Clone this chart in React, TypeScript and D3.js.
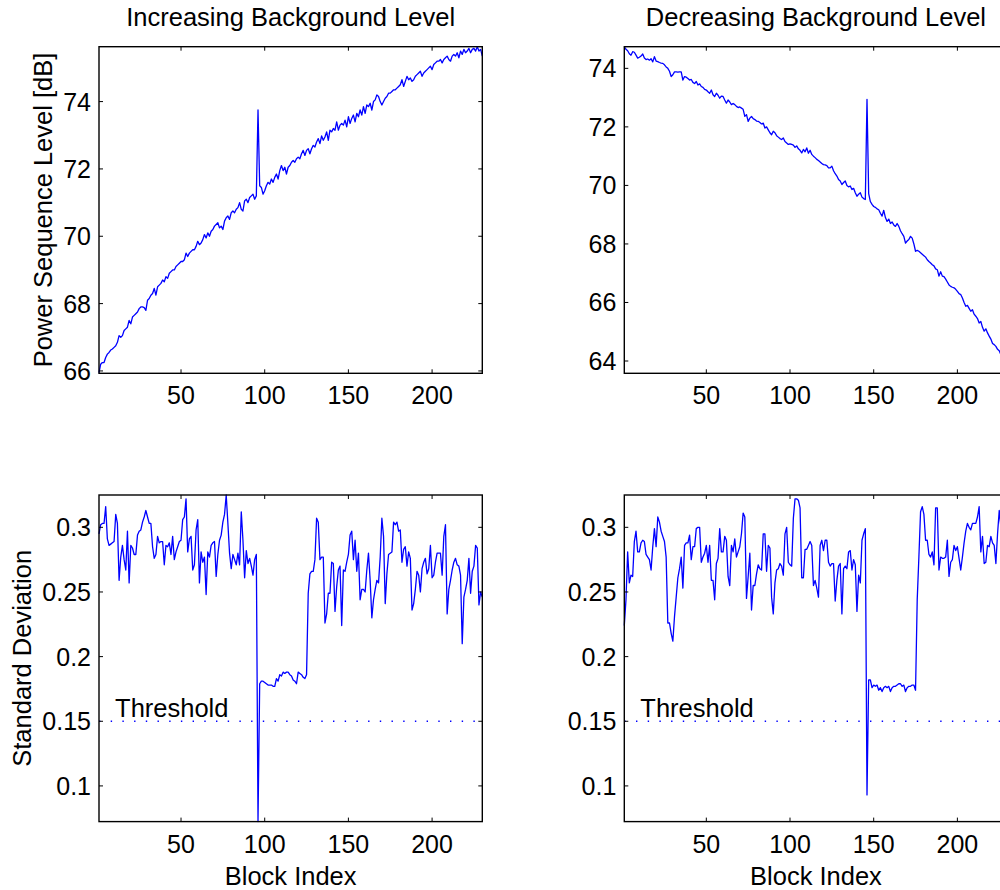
import React from 'react';
import * as d3 from 'd3';

// ---------- DATA ----------
const incLevel: number[] = [
  65.95, 66.2, 66.25, 66.25, 66.4, 66.5, 66.55, 66.62, 66.65, 66.7,
  66.75, 66.85, 67.05, 67.0, 67.05, 67.2, 67.25, 67.3, 67.5, 67.4,
  67.6, 67.65, 67.7, 67.75, 67.85, 67.9, 67.9, 67.88, 67.8, 68.1,
  68.15, 68.25, 68.3, 68.45, 68.25, 68.5, 68.55, 68.6, 68.7, 68.65,
  68.8, 68.75, 68.9, 68.95, 69.0, 69.0, 69.1, 69.15, 69.2, 69.25,
  69.25, 69.3, 69.5, 69.4, 69.5, 69.55, 69.6, 69.6, 69.7, 69.85,
  69.75, 69.8, 69.9, 70.05, 69.95, 70.1, 70.0, 70.15, 70.2, 70.3,
  70.35, 70.4, 70.25, 70.3, 70.2, 70.45, 70.55, 70.6, 70.5, 70.7,
  70.75, 70.7, 70.8, 70.85, 71.0, 70.8, 70.75, 71.05, 71.1, 71.0,
  71.15, 71.2, 71.25, 71.1, 71.2, 73.75, 71.5, 71.45, 71.25, 71.35,
  71.5, 71.6, 71.55, 71.7, 71.6, 71.75, 71.85, 71.7, 71.95, 72.1,
  71.95, 72.05, 71.85, 72.05, 72.1, 72.2, 72.25, 72.2, 72.3, 72.35,
  72.3, 72.45, 72.55, 72.4, 72.55, 72.6, 72.45, 72.6, 72.7, 72.65,
  72.8, 72.9, 72.75, 72.98, 72.85, 72.95, 73.1, 72.85, 73.15, 73.1,
  73.2, 73.15, 73.4, 73.15, 73.3, 73.35, 73.3, 73.45, 73.25, 73.55,
  73.35, 73.5, 73.6, 73.4, 73.65, 73.55, 73.75, 73.6, 73.85, 73.65,
  73.9, 73.85, 73.95, 73.75, 74.0, 74.05, 74.2, 74.15, 74.0, 73.9,
  74.0, 74.1, 74.15, 74.25, 74.25, 74.3, 74.35, 74.35, 74.4, 74.45,
  74.5, 74.65, 74.45, 74.6, 74.75, 74.65, 74.7, 74.6, 74.65, 74.75,
  74.8, 74.85, 74.9, 74.75, 74.85, 74.9, 74.95, 75.0, 75.05, 74.95,
  75.1, 75.15, 75.2, 75.2, 75.25, 75.15, 75.25, 75.3, 75.35, 75.25,
  75.2, 75.35, 75.4, 75.35, 75.45, 75.3, 75.5, 75.4, 75.55, 75.45,
  75.5, 75.58, 75.45, 75.55, 75.58, 75.5, 75.63, 75.5, 75.55, 75.35,
];

const decLevel: number[] = [
  74.74, 74.65, 74.6, 74.5, 74.45, 74.57, 74.55, 74.45, 74.35, 74.38,
  74.42, 74.49, 74.35, 74.3, 74.32, 74.28, 74.33, 74.22, 74.4, 74.25,
  74.23, 74.2, 74.18, 74.17, 74.12, 74.05, 74.0, 73.9, 73.72, 73.78,
  73.88, 73.88, 73.87, 73.88, 73.88, 73.6, 73.72, 73.7, 73.65, 73.6,
  73.62, 73.52, 73.48, 73.55, 73.43, 73.47, 73.38, 73.35, 73.28, 73.26,
  73.2, 73.15, 73.26, 73.1, 73.04, 73.15, 73.08, 72.98, 73.05, 73.04,
  72.92, 72.81, 72.92, 72.85, 72.76, 72.8, 72.76, 72.7, 72.66, 72.68,
  72.64, 72.6, 72.36, 72.42, 72.19, 72.3, 72.36, 72.28, 72.25, 72.2,
  72.19, 72.15, 72.1, 72.13, 71.96, 72.0, 71.9, 71.8, 71.73, 71.85,
  71.8, 71.7, 71.65, 71.6, 71.57, 71.62, 71.5, 71.45, 71.4, 71.42,
  71.4, 71.38, 71.3, 71.35, 71.25, 71.2, 71.11, 71.23, 71.15, 71.28,
  71.1, 71.2, 71.06, 71.0, 70.95, 70.89, 70.85, 70.8, 70.75, 70.71,
  70.7, 70.68, 70.6, 70.6, 70.66, 70.5, 70.4, 70.32, 70.2, 70.15,
  70.03, 70.1, 70.15, 70.0, 69.95, 69.98, 69.86, 69.9, 69.75, 69.63,
  69.7, 69.75, 69.6, 69.55, 69.52, 72.94, 69.72, 69.45, 69.35, 69.28,
  69.25, 69.2, 69.17, 69.05, 68.95, 69.15, 68.9, 68.77, 68.85, 68.7,
  68.75, 68.65, 68.6, 68.7, 68.6, 68.45, 68.35, 68.26, 68.03, 68.1,
  68.15, 68.26, 68.2, 68.0, 67.75, 67.78, 67.75, 67.7, 67.65, 67.6,
  67.55, 67.46, 67.4, 67.35, 67.29, 67.25, 67.15, 67.12, 66.9, 67.05,
  66.9, 66.88, 66.8, 66.7, 66.6, 66.55, 66.52, 66.5, 66.45, 66.38,
  66.3, 66.27, 66.15, 66.0, 65.87, 65.9, 65.8, 65.7, 65.75, 65.6,
  65.53, 65.45, 65.3, 65.35, 65.15, 65.02, 65.1, 64.96, 64.85, 64.75,
  64.6, 64.56, 64.5, 64.4, 64.35, 64.22, 64.2, 64.1, 63.9, 63.58,
];

const incStd: number[] = [
  0.295, 0.302, 0.303, 0.303, 0.316, 0.291, 0.286, 0.287, 0.288, 0.289,
  0.31, 0.303, 0.259, 0.277, 0.286, 0.275, 0.267, 0.297, 0.257, 0.286,
  0.284, 0.279, 0.279, 0.294, 0.297, 0.298, 0.304, 0.308, 0.313, 0.308,
  0.303, 0.303, 0.285, 0.276, 0.279, 0.293, 0.288, 0.289, 0.289, 0.271,
  0.286, 0.285, 0.288, 0.279, 0.293, 0.275, 0.281, 0.285, 0.289, 0.29,
  0.306, 0.308, 0.322, 0.281, 0.291, 0.293, 0.267, 0.271, 0.298, 0.306,
  0.257, 0.281, 0.273, 0.277, 0.248, 0.281, 0.277, 0.286, 0.288, 0.289,
  0.262, 0.279, 0.29, 0.294, 0.304, 0.31, 0.325, 0.303, 0.28, 0.268,
  0.279, 0.275, 0.271, 0.28, 0.271, 0.312, 0.29, 0.261, 0.282, 0.272,
  0.276, 0.27, 0.263, 0.275, 0.279, 0.0724, 0.179, 0.181, 0.181, 0.18,
  0.179, 0.178, 0.178, 0.178, 0.177, 0.177, 0.183, 0.181, 0.186, 0.185,
  0.188, 0.187, 0.188, 0.188, 0.186, 0.185, 0.182, 0.181, 0.179, 0.188,
  0.187, 0.186, 0.184, 0.183, 0.186, 0.249, 0.264, 0.266, 0.266, 0.275,
  0.307, 0.304, 0.275, 0.277, 0.277, 0.226, 0.233, 0.249, 0.249, 0.273,
  0.272, 0.235, 0.254, 0.267, 0.27, 0.224, 0.267, 0.266, 0.273, 0.279,
  0.294, 0.297, 0.275, 0.29, 0.266, 0.28, 0.244, 0.252, 0.252, 0.25,
  0.267, 0.28, 0.259, 0.23, 0.244, 0.252, 0.259, 0.257, 0.277, 0.307,
  0.293, 0.241, 0.264, 0.279, 0.28, 0.281, 0.304, 0.302, 0.304, 0.297,
  0.298, 0.273, 0.283, 0.285, 0.27, 0.281, 0.276, 0.236, 0.241, 0.252,
  0.266, 0.263, 0.25, 0.268, 0.273, 0.276, 0.264, 0.268, 0.286, 0.261,
  0.263, 0.273, 0.28, 0.28, 0.28, 0.263, 0.293, 0.302, 0.233, 0.252,
  0.259, 0.267, 0.273, 0.276, 0.271, 0.27, 0.263, 0.21, 0.246, 0.252,
  0.259, 0.276, 0.249, 0.266, 0.27, 0.286, 0.284, 0.24, 0.25, 0.246,
];

const decStd: number[] = [
  0.224, 0.244, 0.281, 0.257, 0.263, 0.262, 0.289, 0.297, 0.281, 0.281,
  0.288, 0.29, 0.289, 0.279, 0.277, 0.275, 0.267, 0.285, 0.299, 0.285,
  0.308, 0.304, 0.297, 0.293, 0.289, 0.277, 0.226, 0.226, 0.218, 0.212,
  0.231, 0.246, 0.261, 0.268, 0.277, 0.253, 0.286, 0.288, 0.288, 0.294,
  0.275, 0.285, 0.285, 0.299, 0.3, 0.3, 0.273, 0.277, 0.28, 0.286,
  0.273, 0.286, 0.259, 0.259, 0.244, 0.272, 0.276, 0.299, 0.281, 0.281,
  0.293, 0.29, 0.262, 0.255, 0.286, 0.281, 0.291, 0.277, 0.281, 0.285,
  0.295, 0.311, 0.308, 0.245, 0.262, 0.28, 0.236, 0.255, 0.255, 0.264,
  0.271, 0.268, 0.267, 0.295, 0.295, 0.266, 0.286, 0.284, 0.246, 0.233,
  0.257, 0.267, 0.268, 0.272, 0.27, 0.263, 0.295, 0.3, 0.273, 0.271,
  0.27, 0.307, 0.322, 0.322, 0.321, 0.315, 0.261, 0.261, 0.283, 0.283,
  0.286, 0.289, 0.286, 0.255, 0.259, 0.253, 0.246, 0.286, 0.29, 0.282,
  0.29, 0.29, 0.273, 0.27, 0.272, 0.272, 0.243, 0.259, 0.27, 0.272,
  0.233, 0.268, 0.27, 0.268, 0.281, 0.282, 0.267, 0.275, 0.271, 0.235,
  0.263, 0.257, 0.29, 0.295, 0.299, 0.093, 0.182, 0.182, 0.176, 0.178,
  0.177, 0.178, 0.174, 0.176, 0.173, 0.176, 0.177, 0.176, 0.177, 0.173,
  0.176, 0.177, 0.177, 0.178, 0.179, 0.179, 0.177, 0.178, 0.173, 0.176,
  0.177, 0.177, 0.178, 0.178, 0.174, 0.244, 0.277, 0.312, 0.316, 0.31,
  0.29, 0.29, 0.279, 0.277, 0.281, 0.271, 0.315, 0.315, 0.267, 0.277,
  0.276, 0.276, 0.277, 0.29, 0.262, 0.273, 0.275, 0.286, 0.282, 0.285,
  0.276, 0.267, 0.277, 0.288, 0.297, 0.303, 0.3, 0.298, 0.303, 0.303,
  0.303, 0.308, 0.316, 0.281, 0.293, 0.272, 0.273, 0.286, 0.285, 0.293,
  0.288, 0.286, 0.272, 0.295, 0.313, 0.3, 0.29, 0.282, 0.291, 0.298,
];

const thresholdValue = 0.15;
const xTicks = [50, 100, 150, 200];
const incLevelTicks = [66, 68, 70, 72, 74];
const decLevelTicks = [64, 66, 68, 70, 72, 74];
const stdTicks = [0.1, 0.15, 0.2, 0.25, 0.3];
const titles = ['Increasing Background Level', 'Decreasing Background Level'];

// ---------- LAYOUT ----------
const FONT = '"Liberation Sans", Arial, Helvetica, sans-serif';
const PW = 383.3;
const PH = 326.6;
const COLS = [99, 624.3];
const ROWS = [46.7, 495];

type PanelProps = {
  x0: number;
  y0: number;
  values: number[];
  yDomain: [number, number];
  yTicks: number[];
  title?: string;
  xlabel?: string;
  ylabel?: string;
  ylabelX?: number;
  threshold?: number;
};

function Panel({ x0, y0, values, yDomain, yTicks, title, xlabel, ylabel, ylabelX, threshold }: PanelProps) {
  const xs = d3.scaleLinear().domain([1, values.length]).range([x0, x0 + PW]);
  const ys = d3.scaleLinear().domain(yDomain).range([y0 + PH, y0]);
  const line = d3
    .line<number>()
    .x((_, i) => xs(i + 1))
    .y((d) => ys(d));
  const tl = 4;
  const cx = x0 + PW / 2;
  const cy = y0 + PH / 2;
  return (
    <g>
      {threshold !== undefined && (
        <line
          x1={xs(1)}
          x2={xs(values.length)}
          y1={ys(threshold)}
          y2={ys(threshold)}
          stroke="#0000ff"
          strokeWidth={1.4}
          strokeDasharray="1.4 10.3"
        />
      )}
      <path d={line(values) || ''} fill="none" stroke="#0000ff" strokeWidth={1.3} strokeLinejoin="round" />
      {threshold !== undefined && (
        <text x={xs(10.6)} y={ys(threshold) - 4.5} fontSize={25.5} fontFamily={FONT} fill="#000">
          Threshold
        </text>
      )}
      {/* box */}
      <rect x={x0} y={y0} width={PW} height={PH} fill="none" stroke="#000" strokeWidth={1.4} />
      {xTicks.map((t) => (
        <g key={'x' + t}>
          <line x1={xs(t)} x2={xs(t)} y1={y0 + PH} y2={y0 + PH - tl} stroke="#000" strokeWidth={1} />
          <line x1={xs(t)} x2={xs(t)} y1={y0} y2={y0 + tl} stroke="#000" strokeWidth={1} />
          <text x={xs(t)} y={y0 + PH + 31} textAnchor="middle" fontSize={25} fontFamily={FONT} fill="#000">
            {String(t)}
          </text>
        </g>
      ))}
      {yTicks.map((t) => (
        <g key={'y' + t}>
          <line x1={x0} x2={x0 + tl} y1={ys(t)} y2={ys(t)} stroke="#000" strokeWidth={1} />
          <line x1={x0 + PW} x2={x0 + PW - tl} y1={ys(t)} y2={ys(t)} stroke="#000" strokeWidth={1} />
          <text x={x0 - 8} y={ys(t) + 9} textAnchor="end" fontSize={25} fontFamily={FONT} fill="#000">
            {String(t)}
          </text>
        </g>
      ))}
      {title && (
        <text x={cx} y={26} textAnchor="middle" fontSize={25.5} fontFamily={FONT} fill="#000">
          {title}
        </text>
      )}
      {xlabel && (
        <text x={cx} y={y0 + PH + 63} textAnchor="middle" fontSize={25.5} fontFamily={FONT} fill="#000">
          {xlabel}
        </text>
      )}
      {ylabel && (
        <text
          transform={`translate(${ylabelX},${cy}) rotate(-90)`}
          textAnchor="middle"
          fontSize={25.5}
          fontFamily={FONT}
          fill="#000"
        >
          {ylabel}
        </text>
      )}
    </g>
  );
}

export default function App() {
  return (
    <svg
      width={1000}
      height={890}
      viewBox="0 0 1000 890"
      style={{ position: 'absolute', left: 0, top: 0, background: '#fff', display: 'block' }}
    >
      <rect x={0} y={0} width={1000} height={890} fill="#fff" />
      <Panel
        x0={COLS[0]}
        y0={ROWS[0]}
        values={incLevel}
        yDomain={[65.93, 75.63]}
        yTicks={incLevelTicks}
        title={titles[0]}
        ylabel="Power Sequence Level [dB]"
        ylabelX={52}
      />
      <Panel
        x0={COLS[1]}
        y0={ROWS[0]}
        values={decLevel}
        yDomain={[63.58, 74.74]}
        yTicks={decLevelTicks}
        title={titles[1]}
      />
      <Panel
        x0={COLS[0]}
        y0={ROWS[1]}
        values={incStd}
        yDomain={[0.0724, 0.325]}
        yTicks={stdTicks}
        xlabel="Block Index"
        ylabel="Standard Deviation"
        ylabelX={31}
        threshold={thresholdValue}
      />
      <Panel
        x0={COLS[1]}
        y0={ROWS[1]}
        values={decStd}
        yDomain={[0.0724, 0.325]}
        yTicks={stdTicks}
        xlabel="Block Index"
        threshold={thresholdValue}
      />
    </svg>
  );
}
